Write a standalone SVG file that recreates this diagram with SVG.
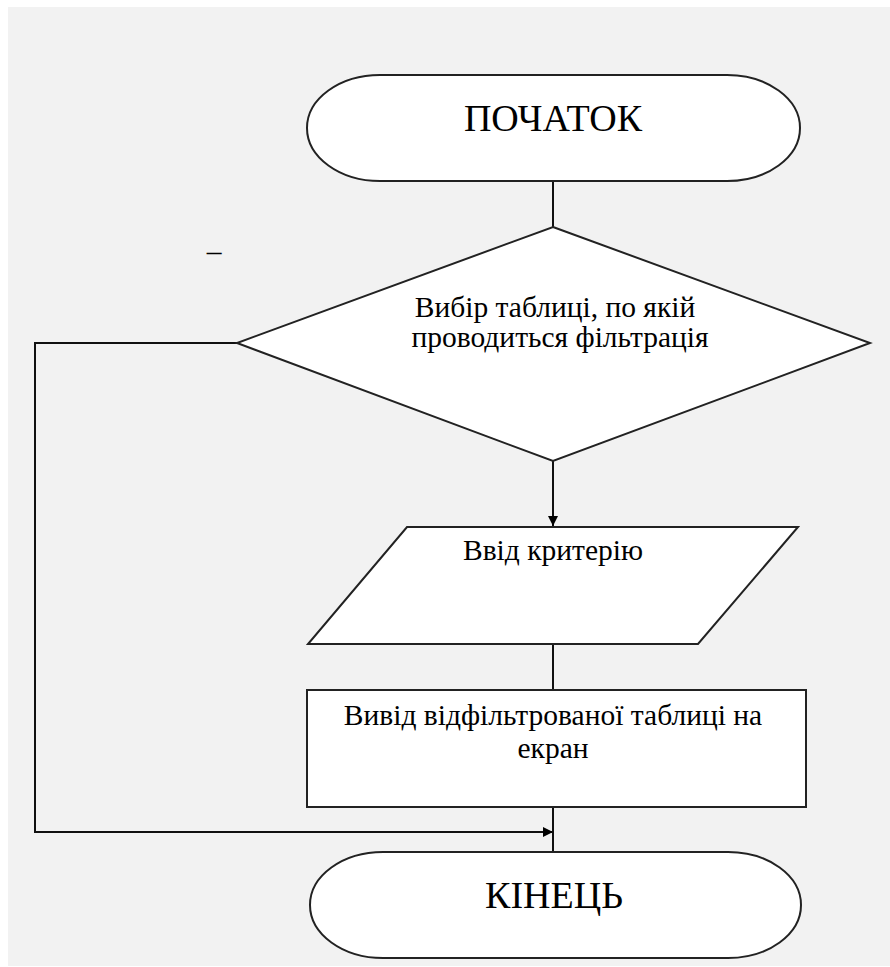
<svg xmlns="http://www.w3.org/2000/svg" width="890" height="967" viewBox="0 0 890 967">
<defs>
<style>
.shape{fill:#ffffff;stroke:#222222;stroke-width:2}
.line{fill:none;stroke:#111111;stroke-width:2}
.t{font-family:"Liberation Serif","Times New Roman",serif;fill:#000000;text-anchor:middle}
.big{font-size:38px}
.mid{font-size:29.5px}
</style>
<marker id="arr" viewBox="0 0 10 10" refX="10" refY="5" markerWidth="5.5" markerHeight="5" orient="auto" markerUnits="strokeWidth">
<path d="M0,0 L10,5 L0,10 z" fill="#000000"/>
</marker>
</defs>
<rect x="0" y="0" width="890" height="967" fill="#ffffff"/>
<rect x="8" y="7" width="882" height="959" fill="#f2f2f2"/>
<g id="connectors">
<line class="line" x1="553" y1="181" x2="553" y2="227"/>
<line class="line" x1="553" y1="461" x2="553" y2="526" marker-end="url(#arr)"/>
<line class="line" x1="553" y1="644" x2="553" y2="690"/>
<line class="line" x1="553" y1="807" x2="553" y2="852"/>
<polyline class="line" points="237,343 35,343 35,832 553,832" marker-end="url(#arr)"/>
</g>
<g id="start">
<rect class="shape" x="307" y="75" width="493" height="106" rx="73" ry="53"/>
<text class="t big" x="553" y="131">ПОЧАТОК</text>
</g>
<g id="decision">
<polygon class="shape" points="553,227 870,343 553,461 237,343"/>
<text class="t mid" x="555" y="317">Вибір таблиці, по якій</text>
<text class="t mid" x="560" y="347">проводиться фільтрація</text>
</g>
<g id="input">
<polygon class="shape" points="407,527 798,527 698,644 308,644"/>
<text class="t mid" x="553" y="560">Ввід критерію</text>
</g>
<g id="output">
<rect class="shape" x="307" y="690" width="499" height="117"/>
<text class="t mid" x="553" y="725">Вивід відфільтрованої таблиці на</text>
<text class="t mid" x="553" y="758">екран</text>
</g>
<g id="end">
<rect class="shape" x="310" y="852" width="491" height="106" rx="73" ry="53"/>
<text class="t big" x="554" y="908">КІНЕЦЬ</text>
</g>
<text class="t mid" x="214" y="261">–</text>
</svg>
